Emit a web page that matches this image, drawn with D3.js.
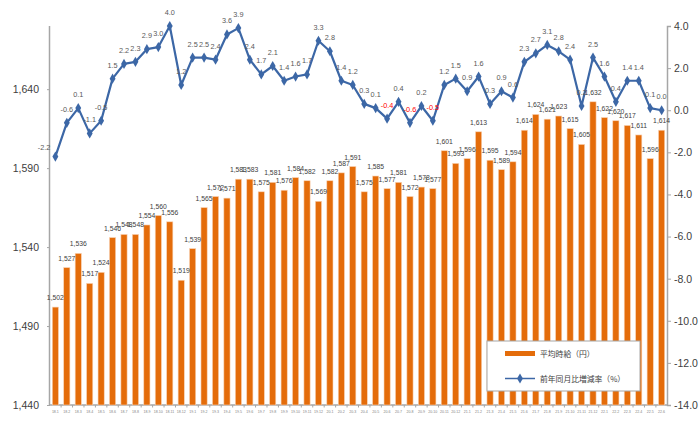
<!DOCTYPE html>
<html>
<head>
<meta charset="utf-8">
<script src="https://cdn.jsdelivr.net/npm/d3@7"></script>
<style>
  body { margin: 0; background: #fff; }
  svg { display: block; }
</style>
</head>
<body>
<script>
// months 2018.1 - 2022.6
const months = [
  '18.1','18.2','18.3','18.4','18.5','18.6','18.7','18.8','18.9','18.10','18.11','18.12',
  '19.1','19.2','19.3','19.4','19.5','19.6','19.7','19.8','19.9','19.10','19.11','19.12',
  '20.1','20.2','20.3','20.4','20.5','20.6','20.7','20.8','20.9','20.10','20.11','20.12',
  '21.1','21.2','21.3','21.4','21.5','21.6','21.7','21.8','21.9','21.10','21.11','21.12',
  '22.1','22.2','22.3','22.4','22.5','22.6'
];
// 平均時給（円）
const wage = [
  1502,1527,1536,1517,1524,1546,1548,1548,1554,1560,1556,1519,
  1539,1565,1572,1571,1583,1583,1575,1581,1576,1584,1582,1569,
  1582,1587,1591,1575,1585,1577,1581,1572,1578,1577,1601,1593,
  1596,1613,1595,1589,1594,1614,1624,1621,1623,1615,1605,1632,
  1622,1620,1617,1611,1596,1614
];
// 前年同月比増減率（%）
const yoy = [
  -2.2,-0.6,0.1,-1.1,-0.5,1.5,2.2,2.3,2.9,3.0,4.0,1.2,
  2.5,2.5,2.4,3.6,3.9,2.4,1.7,2.1,1.4,1.6,1.7,3.3,
  2.8,1.4,1.2,0.3,0.1,-0.4,0.4,-0.6,0.2,-0.5,1.2,1.5,
  0.9,1.6,0.3,0.9,0.6,2.3,2.7,3.1,2.8,2.4,0.2,2.5,
  1.6,0.4,1.4,1.4,0.1,0.0
];
const leftTicks = [1440, 1490, 1540, 1590, 1640];
const rightTicks = [4, 2, 0, -2, -4, -6, -8, -10, -12, -14];

const W = 700, H = 435;
const m = {left: 50, right: 33, top: 26, bottom: 30};
const barColor = '#E46C0A', lineColor = '#3C67A6';
const numFont = '"Liberation Sans", Arial, sans-serif';
const jpFont = '"Noto Sans CJK JP", sans-serif';

const svg = d3.select('body').append('svg')
  .attr('width', W).attr('height', H);

const x = d3.scaleBand().domain(months)
  .range([m.left, W - m.right]).paddingInner(0.46).paddingOuter(0.2);
const yL = d3.scaleLinear().domain([1440, 1680]).range([H - m.bottom, m.top]);
const yR = d3.scaleLinear().domain([-14, 4]).range([H - m.bottom, m.top]);

// axes
const axisColor = '#A6A6A6';
const gL = svg.append('g').attr('transform', `translate(${m.left},0)`)
  .call(d3.axisLeft(yL).tickValues(leftTicks).tickFormat(d3.format(',')).tickSize(3).tickPadding(8));
gL.select('.domain').attr('d', `M-0.5,${yL(1440)}V${m.top}`);

const gR = svg.append('g').attr('transform', `translate(${W - m.right},0)`)
  .call(d3.axisRight(yR).tickValues(rightTicks).tickFormat(d3.format('.1f')).tickSize(4).tickPadding(3));

[gL, gR].forEach(g => {
  g.select('.domain').attr('stroke', axisColor).attr('stroke-width', 1.5);
  g.selectAll('.tick line').attr('stroke', axisColor);
  g.selectAll('.tick text').attr('fill', '#404040')
    .style('font-family', numFont).style('font-size', '10.5px');
});
gR.selectAll('.tick text').text(d => d.toFixed(1));

const gB = svg.append('g').attr('transform', `translate(0,${H - m.bottom})`)
  .call(d3.axisBottom(x).tickSize(0).tickPadding(5));
gB.select('.domain').attr('stroke', axisColor).attr('stroke-width', 1.5)
  .attr('d', `M${m.left},0H${W - m.right}`);
gB.selectAll('.tick text').attr('fill', '#7f7f7f')
  .style('font-family', numFont).style('font-size', '3.6px');
// category separators
const step = x.step();
gB.selectAll('.sep').data(months.slice(1)).enter().append('line')
  .attr('x1', d => x(d) - (step - x.bandwidth()) / 2)
  .attr('x2', d => x(d) - (step - x.bandwidth()) / 2)
  .attr('y1', 0).attr('y2', 2.5).attr('stroke', axisColor);

// bars
svg.append('g').selectAll('rect').data(wage).enter().append('rect')
  .attr('x', (d, i) => x(months[i]))
  .attr('y', d => yL(d))
  .attr('width', x.bandwidth())
  .attr('height', d => yL(1440) - yL(d))
  .attr('fill', barColor)
  .attr('stroke', '#F9D3B5').attr('stroke-width', 0.6);

svg.append('g').selectAll('text').data(wage).enter().append('text')
  .attr('x', (d, i) => x(months[i]) + x.bandwidth() / 2)
  .attr('y', d => yL(d) - 7)
  .attr('text-anchor', 'middle')
  .attr('fill', '#404040')
  .style('font-family', numFont).style('font-size', '6.8px')
  .text(d => d3.format(',')(d));

// line
const cx = i => x(months[i]) + x.bandwidth() / 2;
const line = d3.line().x((d, i) => cx(i)).y(d => yR(d));
svg.append('path').datum(yoy)
  .attr('d', line).attr('fill', 'none')
  .attr('stroke', lineColor).attr('stroke-width', 2.2).attr('stroke-linejoin', 'round');

const diamond = d3.symbol().type(d3.symbolDiamond).size(30);
svg.append('g').selectAll('path').data(yoy).enter().append('path')
  .attr('d', diamond)
  .attr('transform', (d, i) => `translate(${cx(i)},${yR(d)})`)
  .attr('fill', lineColor);

svg.append('g').selectAll('text').data(yoy).enter().append('text')
  .attr('x', (d, i) => i === 0 ? cx(i) - 5 : cx(i))
  .attr('y', (d, i) => i === 0 ? yR(d) - 7 : yR(d) - 11)
  .attr('text-anchor', (d, i) => i === 0 ? 'end' : 'middle')
  .attr('fill', (d, i) => (d < 0 && months[i].startsWith('20.')) ? '#FF0000' : '#595959')
  .style('font-family', numFont).style('font-size', '7.3px')
  .text(d => d.toFixed(1));

// legend
const lg = svg.append('g').attr('transform', 'translate(487,341)');
lg.append('rect').attr('width', 153).attr('height', 50)
  .attr('fill', '#fff').attr('stroke', '#A6A6A6').attr('stroke-width', 1);
lg.append('rect').attr('x', 18).attr('y', 10).attr('width', 30).attr('height', 5)
  .attr('fill', barColor);
lg.append('text').attr('x', 53).attr('y', 15.5)
  .attr('fill', '#404040').style('font-family', jpFont).style('font-size', '7.8px')
  .text('平均時給（円）');
lg.append('line').attr('x1', 18).attr('x2', 48).attr('y1', 37.5).attr('y2', 37.5)
  .attr('stroke', lineColor).attr('stroke-width', 1.5);
lg.append('path').attr('d', diamond).attr('transform', 'translate(33,37.5)').attr('fill', lineColor);
lg.append('text').attr('x', 53).attr('y', 40.5)
  .attr('fill', '#404040').style('font-family', jpFont).style('font-size', '7.8px')
  .text('前年同月比増減率（%）');
</script>
</body>
</html>
